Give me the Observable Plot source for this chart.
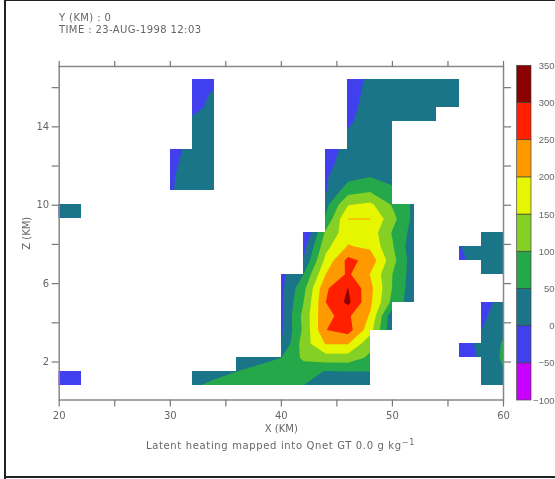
<!DOCTYPE html>
<html><head><meta charset="utf-8">
<script src="https://cdn.jsdelivr.net/npm/d3@7"></script>
<script src="https://cdn.jsdelivr.net/npm/@observablehq/plot@0.6"></script>
<style>
html,body{margin:0;padding:0;background:#fff;overflow:hidden}
#page{position:relative;width:555px;height:479px;overflow:hidden;font-family:"DejaVu Sans",sans-serif;color:#666;filter:blur(0.35px)}
#page svg{position:absolute;left:0;top:0;background:transparent}
.frame{position:absolute;background:#222}
.t{position:absolute;white-space:nowrap;font-size:10px;line-height:11px}
.t.h{letter-spacing:.4px}
.t.c{letter-spacing:.65px}
sup{font-size:8px;line-height:0;vertical-align:4px}
</style></head><body><div id="page"></div>
<script>
const _ = NaN;
const xNodes = d3.range(20, 61, 2);
const zNodes = [16.4,15.69,14.98,14.27,13.56,12.85,12.15,11.44,10.73,10.02,9.31,8.6,7.89,7.18,6.47,5.76,5.05,4.34,3.63,2.92,2.21,1.5,0.8];
const nodeRows = [
[_,_,_,_,_,_,-20,-10,_,_,_,_,_,-14,6,15,20,20,20,_,_],
[_,_,_,_,_,_,-15,5,_,_,_,_,_,-14,10,18,20,20,20,_,_],
[_,_,_,_,_,_,-7,7,_,_,_,_,_,-9,11,18,20,20,20,_,_],
[_,_,_,_,_,_,5,12,_,_,_,_,_,-5,15,20,20,20,_,_,_],
[_,_,_,_,_,_,8,15,_,_,_,_,_,5,20,20,_,_,_,_,_],
[_,_,_,_,_,-13,11,15,_,_,_,_,-12,8,25,22,_,_,_,_,_],
[_,_,_,_,_,-9,15,18,_,_,_,_,-8,12,32,28,_,_,_,_,_],
[_,_,_,_,_,-5,18,18,_,_,_,_,-5,35,50,35,_,_,_,_,_],
[_,_,_,_,_,-3,15,15,_,_,_,_,-3,80,95,60,_,_,_,_,_],
[20,20,_,_,_,_,_,_,_,_,_,_,35,148,161,95,38,_,_,_,_],
[20,20,_,_,_,_,_,_,_,_,_,_,58,201,201,117,33,_,_,_,_],
[_,_,_,_,_,_,_,_,_,_,_,-55,110,180,179,96,27,_,_,25,25],
[_,_,_,_,_,_,_,_,_,_,_,-20,135,204,190,105,10,_,-3,30,25],
[_,_,_,_,_,_,_,_,_,_,_,5,165,265,232,118,15,_,-10,20,25],
[_,_,_,_,_,_,_,_,_,_,-12,50,200,258,198,100,20,_,_,25,25],
[_,_,_,_,_,_,_,_,_,_,-11,85,242,301,215,98,15,_,_,_,_],
[_,_,_,_,_,_,_,_,_,_,-10,100,250,312,210,85,15,_,_,-15,14],
[_,_,_,_,_,_,_,_,_,_,-9,115,245,258,195,12,_,_,_,-8,20],
[_,_,_,_,_,_,_,_,_,_,-7,110,249,272,170,10,_,_,_,-1,40],
[_,_,_,_,_,_,_,_,_,_,-1,125,203,202,115,_,_,_,-30,15,55],
[_,_,_,_,_,_,_,_,15,35,50,110,128,128,90,_,_,_,-30,8,60],
[-20,-20,_,_,_,_,10,25,50,65,75,70,47,49,50,_,_,_,_,15,46],
[-20,-20,_,_,_,_,39,70,75,80,80,50,25,25,25,_,_,_,_,15,25]
];
const cellRows = [
"......#......#####..",
"......#......#####..",
"......#......####...",
"......#......##.....",
"......#......##.....",
".....##.....###.....",
".....##.....###.....",
".....##.....###.....",
"............###.....",
"#...........####....",
"............####....",
"...........#####...#",
"...........#####..##",
"...........#####...#",
"..........######....",
"..........######....",
"..........#####....#",
"..........#####....#",
"..........####.....#",
"..........####....##",
"........######.....#",
"#.....########.....#"
];
const levels = [-100,-50,0,50,100,150,200,250,300,350];
const colors = ["#c800ff","#4040ee","#1b7589","#24a84a","#84d024","#e6f500","#ff9900","#ff2000","#8b0000"];
const xTicks = [20,25,30,35,40,45,50,55,60];
const zTicks = [2,4,6,8,10,12,14,16];
const xLabelled = [20,30,40,50,60];
const zLabelled = [2,6,10,14];
const xDomain = [20,60], zDomain = [0.06,17.08];
const header = ["Y (KM) : 0","TIME : 23-AUG-1998 12:03"];
const xLabel = "X (KM)", zLabel = "Z (KM)";
const caption = ["Latent heating mapped into Qnet GT 0.0 g kg","\u22121"];

const colorScale = {type:"threshold",domain:levels.slice(1,-1),range:colors};
const stepZ = (zNodes[0]-zNodes[zNodes.length-1])/(zNodes.length-1);
const zEdges = [zDomain[1]+0.1,...zNodes,zDomain[0]-0.1];
const maskRows = ["",...cellRows,""];
const empty = [];
maskRows.forEach((row,j)=>{
  for(let i=0;i<20;i++) if(row[i]!=="#") empty.push({x1:i===0?19.8:xNodes[i],x2:i===19?60.2:xNodes[i+1],y1:zEdges[j],y2:zEdges[j+1]});
});
const axisStyle = {stroke:"#777",color:"#666",fontSize:10};
const chart = Plot.plot({
  width:555,height:479,marginLeft:58.7,marginRight:52,marginTop:66,marginBottom:79.5,
  style:{fontFamily:"DejaVu Sans, sans-serif",background:"transparent"},
  x:{domain:xDomain},y:{domain:zDomain},color:colorScale,
  marks:[
    Plot.contour(nodeRows.flat(),{width:xNodes.length,height:zNodes.length,x1:19,x2:61,
      y1:zNodes[0]+stepZ/2,y2:zNodes[zNodes.length-1]-stepZ/2,
      thresholds:levels.slice(0,-1),fill:Plot.identity,clip:true}),
    Plot.rect(empty,{x1:"x1",x2:"x2",y1:"y1",y2:"y2",fill:"white",shapeRendering:"crispEdges"}),
    Plot.frame({stroke:"#888",strokeWidth:1.5}),
    Plot.axisX({anchor:"bottom",ticks:xTicks,tickSize:7,tickPadding:5,tickFormat:d=>xLabelled.includes(d)?d:"",
      label:xLabel,labelAnchor:"center",labelOffset:32,labelArrow:"none",...axisStyle,strokeWidth:1.2}),
    Plot.axisX({anchor:"top",ticks:xTicks,tickSize:6,tickFormat:()=>"",label:null,stroke:"#777",strokeWidth:1.2}),
    Plot.axisY({anchor:"left",ticks:zTicks,tickSize:7,tickPadding:3,tickFormat:d=>zLabelled.includes(d)?d:"",
      label:zLabel,labelAnchor:"center",labelOffset:36,labelArrow:"none",...axisStyle,strokeWidth:1.2}),
    Plot.axisY({anchor:"right",ticks:zTicks,tickSize:7,tickFormat:()=>"",label:null,stroke:"#777",strokeWidth:1.2})
  ]
});
const bar = Plot.plot({
  width:555,height:479,marginLeft:516.7,marginRight:24,marginTop:65.3,marginBottom:79,
  style:{fontFamily:"Liberation Sans, sans-serif",background:"transparent"},
  x:{domain:[0,1],axis:null},y:{domain:[levels[0],levels[levels.length-1]],axis:null},color:colorScale,
  marks:[
    Plot.rectY(levels.slice(0,-1),{x1:0,x2:1,y1:d=>d,y2:(d,i)=>levels[i+1],fill:d=>d,stroke:"#444",strokeWidth:0.7}),
    Plot.text(levels,{y:d=>d,text:d=>String(d).replace("-","\u2212"),frameAnchor:"right",textAnchor:"end",dx:23,fill:"#666",fontSize:9.5})
  ]
});
const page = document.getElementById("page");
page.append(chart,bar);
const addText=(html,cls,css)=>{const d=document.createElement("div");d.className="t "+cls;d.style.cssText=css;d.innerHTML=html;page.append(d);};
addText(header[0],"h","left:59px;top:12px");
addText(header[1],"h","left:59px;top:24px");
addText(caption[0]+"<sup>"+caption[1]+"</sup>","c","left:146px;top:440px");
for(const css of ["left:4px;top:0;width:2px;height:479px","left:4px;top:0;width:551px;height:1px","left:4px;top:476px;width:551px;height:2px"]){
  const f=document.createElement("div");f.className="frame";f.style.cssText=css;page.append(f);
}
</script></body></html>
